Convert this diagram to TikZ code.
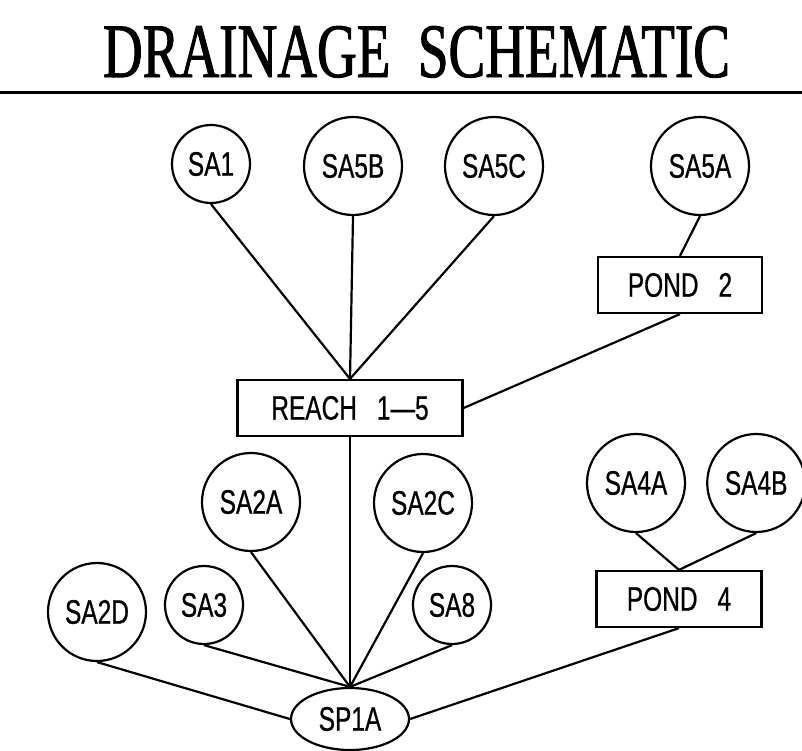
\documentclass[tikz,border=0pt]{standalone}
\usepackage{fontspec}
\usetikzlibrary{positioning,shapes.geometric}
\newfontfamily\labelfont{Liberation Sans}[FakeStretch=0.72,FakeBold=0.6]
\newfontfamily\titlefont{Liberation Serif}[FakeStretch=0.715,FakeBold=1.2]
\newcommand{\gap}{\hspace{20pt}}

\begin{document}
\begin{tikzpicture}[x=1pt, y=-1pt, node distance=20pt]
\tikzset{
    area/.style={circle, draw=black, line width=2.2pt, inner sep=0pt, font=\labelfont\fontsize{34}{34}\selectfont},
    smallarea/.style={area, minimum size=78pt},
    bigarea/.style={area, minimum size=98pt},
    pond/.style={rectangle, draw=black, line width=2.2pt, inner sep=0pt, minimum height=56pt, font=\labelfont\fontsize{34}{34}\selectfont},
    outlet/.style={ellipse, draw=black, line width=2.2pt, inner sep=0pt, minimum width=118pt, minimum height=62pt, font=\labelfont\fontsize{34}{34}\selectfont},
    pipe/.style={line width=2.2pt}
}
\useasboundingbox (0,0) rectangle (802,750);

% heading
\node[anchor=base, font=\titlefont\fontsize{77}{77}\selectfont] (title) at (416.5,77) {DRAINAGE\ \ SCHEMATIC};
\coordinate (ruleleft) at (0,92);
\coordinate (ruleright) at (802,92);
\draw[line width=3pt] (ruleleft) -- (ruleright);

% upper basin
\node[pond, minimum width=225pt] (reach) at (350,408) {REACH\gap 1—5};
\node[smallarea] (sa1) at (211,164) {SA1};
\node[bigarea] (sa5b) at (353,166) {SA5B};
\node[bigarea] (sa5c) at (494,166) {SA5C};
\node[bigarea] (sa5a) at (700,166) {SA5A};
\node[pond, minimum width=164pt] (pond2) at (680,285) {POND\gap 2};

% lower basin
\node[outlet] (sp1a) at (350,719) {SP1A};
\node[bigarea] (sa2a) at (251,502) {SA2A};
\node[bigarea] (sa2c) at (423,503) {SA2C};
\node[bigarea] (sa2d) at (97,612) {SA2D};
\node[smallarea] (sa3) at (204,605) {SA3};
\node[smallarea] (sa8) at (452,605) {SA8};
\node[bigarea] (sa4a) at (636,483) {SA4A};
\node[bigarea, right=20pt of sa4a] (sa4b) {SA4B};
\node[pond, minimum width=165pt] (pond4) at (679,599) {POND\gap 4};

\draw[pipe] (sa1.south) -- (reach.north);
\draw[pipe] (sa5b.south) -- (reach.north);
\draw[pipe] (sa5c.south) -- (reach.north);
\draw[pipe] (sa5a.south) -- (pond2.north);
\draw[pipe] (pond2.south) -- (reach.east);

\draw[pipe] (reach.south) -- (sp1a.north);
\draw[pipe] (sa2a.south) -- (sp1a.north);
\draw[pipe] (sa2c.south) -- (sp1a.north);
\draw[pipe] (sa3.south) -- (sp1a.north);
\draw[pipe] (sa8.south) -- (sp1a.north);
\draw[pipe] (sa2d.south) -- (sp1a.west);
\draw[pipe] (sa4a.south) -- (pond4.north);
\draw[pipe] (sa4b.south) -- (pond4.north);
\draw[pipe] (pond4.south) -- (sp1a.east);

\end{tikzpicture}
\end{document}
